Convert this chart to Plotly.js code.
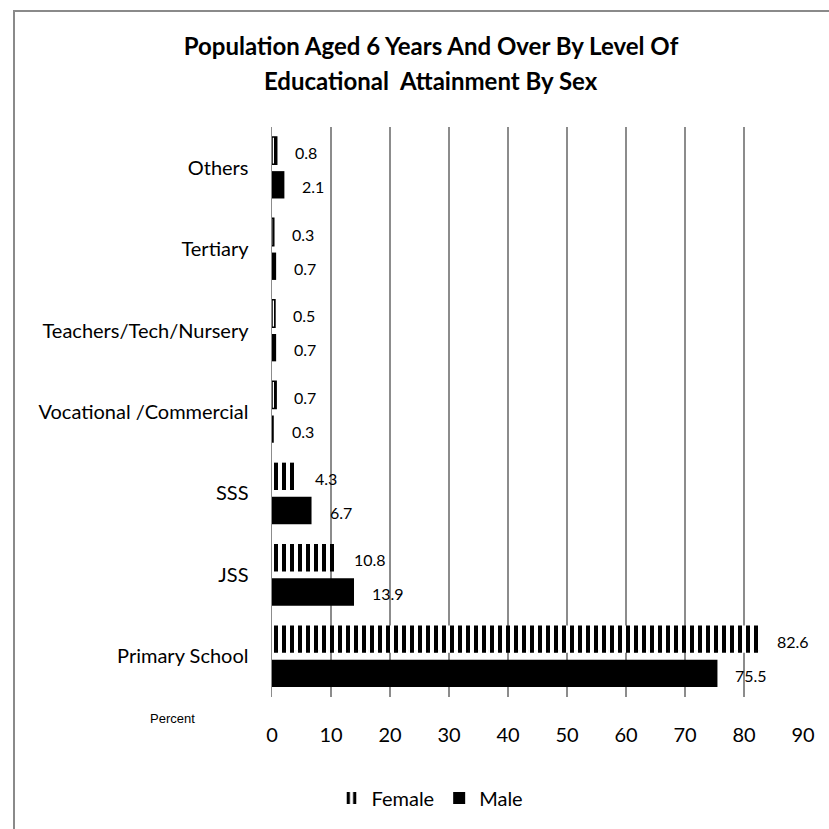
<!DOCTYPE html>
<html>
<head>
<meta charset="utf-8">
<script src="https://cdn.plot.ly/plotly-3.0.1.min.js"></script>
<style>
  html, body { margin: 0; padding: 0; background: #fff; overflow: hidden; }
  #chart { position: absolute; left: 0; top: 0; width: 829px; height: 829px; }
  #frame { position: absolute; left: 13px; top: 10px; width: 840px; height: 840px;
           border: 2px solid #8a8a8a; pointer-events: none; }
</style>
</head>
<body>
<div id="chart"></div>
<div id="frame"></div>
<script>
// ---- data ----
const categories = ['Primary School', 'JSS', 'SSS', 'Vocational /Commercial',
                    'Teachers/Tech/Nursery', 'Tertiary', 'Others'];
const femaleValues = [82.6, 10.8, 4.3, 0.7, 0.5, 0.3, 0.8];
const maleValues   = [75.5, 13.9, 6.7, 0.3, 0.7, 0.7, 2.1];
const xTicks = [0, 10, 20, 30, 40, 50, 60, 70, 80, 90];
const titleLine1 = 'Population Aged 6 Years And Over By Level Of';
const titleLine2 = 'Educational  Attainment By Sex';

const FONT = 'Lato, "Open Sans", sans-serif';

const male = {
  type: 'bar', orientation: 'h', name: 'Male',
  y: categories, x: maleValues,
  marker: { color: '#000000', line: { width: 0 } },
  legendrank: 2, hoverinfo: 'x+y'
};
const female = {
  type: 'bar', orientation: 'h', name: 'Female',
  y: categories, x: femaleValues,
  marker: {
    color: '#ffffff',
    // very thin bars are too narrow for a stripe: give them a hairline edge
    line: { color: '#000000', width: femaleValues.map(v => (v < 1 ? 1.5 : 0)) },
    pattern: { shape: '|', fgcolor: '#000000', bgcolor: '#ffffff',
               size: 8, solidity: 0.5, fillmode: 'replace' }
  },
  legendrank: 1, hoverinfo: 'x+y'
};

const annotations = [];
categories.forEach((c, i) => {
  annotations.push({ x: femaleValues[i], y: c, xref: 'x', yref: 'y',
    text: femaleValues[i].toFixed(1), showarrow: false, xanchor: 'left',
    xshift: 16, yshift: 15, font: { family: FONT, size: 16, color: '#000' } });
  annotations.push({ x: maleValues[i], y: c, xref: 'x', yref: 'y',
    text: maleValues[i].toFixed(1), showarrow: false, xanchor: 'left',
    xshift: 16, yshift: -19, font: { family: FONT, size: 16, color: '#000' } });
});
annotations.push({ xref: 'paper', yref: 'paper', x: (172 - 272) / 531, y: (697 - 719) / 570,
  text: 'Percent', showarrow: false, xanchor: 'center', yanchor: 'middle',
  font: { family: '"Liberation Sans", Arial, sans-serif', size: 13, color: '#000' } });
annotations.push({ xref: 'paper', yref: 'paper', x: (431 - 272) / 531, y: (697 - 81) / 570,
  text: '<b>' + titleLine2 + '</b>', showarrow: false, xanchor: 'center', yanchor: 'middle',
  font: { family: FONT, size: 24, color: '#000' } });

const layout = {
  width: 829, height: 829,
  margin: { l: 272, r: 26, t: 127, b: 132, pad: 0 },
  paper_bgcolor: '#ffffff', plot_bgcolor: '#ffffff',
  title: { text: '<b>' + titleLine1 + '</b>', font: { family: FONT, size: 24, color: '#000' },
           x: 431 / 829, xanchor: 'center', xref: 'container',
           y: 1 - 47 / 829, yanchor: 'middle', yref: 'container' },
  barmode: 'group', bargap: 0.16, bargroupgap: 0.2,
  xaxis: {
    range: [0, 90], tickvals: xTicks, ticktext: xTicks.map(String),
    showgrid: true, gridcolor: '#8c8c8c', gridwidth: 1.5,
    zeroline: false, showline: false, ticks: '',
    tickfont: { family: FONT, size: 20, color: '#000' }, ticklabelstandoff: 24,
    fixedrange: true
  },
  yaxis: {
    type: 'category', categoryorder: 'array', categoryarray: categories,
    showline: true, linecolor: '#8c8c8c', linewidth: 1.5,
    showgrid: false, zeroline: false, ticks: '',
    tickfont: { family: FONT, size: 20, color: '#000' }, ticklabelstandoff: 18,
    fixedrange: true
  },
  legend: {
    orientation: 'h', xref: 'container', yref: 'container',
    x: 430 / 829, xanchor: 'center', y: 1 - 798 / 829, yanchor: 'middle',
    font: { family: FONT, size: 20, color: '#000' }, traceorder: 'normal'
  },
  annotations: annotations,
  showlegend: true
};

Plotly.newPlot('chart', [male, female], layout, { displayModeBar: false, staticPlot: true });
</script>
</body>
</html>
